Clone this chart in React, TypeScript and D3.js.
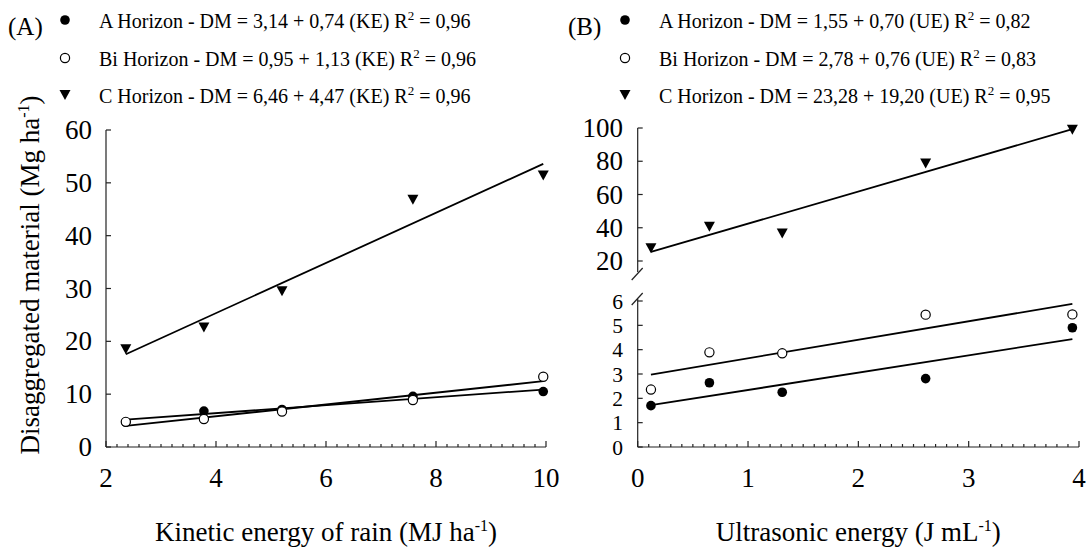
import React from "react";
import * as d3 from "d3";

// Panel A – kinetic energy of rain (MJ ha-1)
const keA = [2.36, 3.78, 5.2, 7.58, 9.95];
const aHorizonA = [4.7, 6.8, 7.1, 9.6, 10.5];
const biHorizonA = [4.76, 5.3, 6.7, 8.9, 13.3];
const cHorizonA = [18.5, 22.6, 29.5, 46.8, 51.4];
const xTicksA = [2, 4, 6, 8, 10];
const yTicksA = [0, 10, 20, 30, 40, 50, 60];

// Panel B – ultrasonic energy (J mL-1)
const ueB = [0.12, 0.65, 1.31, 2.61, 3.94];
const aHorizonB = [1.7, 2.64, 2.25, 2.81, 4.9];
const biHorizonB = [2.36, 3.89, 3.85, 5.44, 5.45];
const cHorizonB = [27.6, 40.6, 36.6, 78.6, 99];
const xTicksB = [0, 1, 2, 3, 4];
const yTicksBLow = [0, 1, 2, 3, 4, 5, 6];
const yTicksBUp = [20, 40, 60, 80, 100];

const legendA = [
  { sym: "filled", text: "A Horizon - DM = 3,14 + 0,74 (KE) R", tail: " = 0,96" },
  { sym: "open", text: "Bi Horizon - DM = 0,95 + 1,13 (KE) R", tail: " = 0,96" },
  { sym: "tri", text: "C Horizon - DM = 6,46 + 4,47 (KE) R", tail: " = 0,96" },
];
const legendB = [
  { sym: "filled", text: "A Horizon - DM = 1,55 + 0,70 (UE) R", tail: " = 0,82" },
  { sym: "open", text: "Bi Horizon - DM = 2,78 + 0,76 (UE) R", tail: " = 0,83" },
  { sym: "tri", text: "C Horizon - DM = 23,28 + 19,20 (UE) R", tail: " = 0,95" },
];

const FONT = "Liberation Serif";
const AX = "#222";
const AXFS = 27;

function fit(xs: number[], ys: number[]) {
  const mx = d3.mean(xs) as number;
  const my = d3.mean(ys) as number;
  let sxy = 0, sxx = 0;
  xs.forEach((x, i) => { sxy += (x - mx) * (ys[i] - my); sxx += (x - mx) ** 2; });
  const b = sxy / sxx;
  const a = my - b * mx;
  const x0 = d3.min(xs) as number, x1 = d3.max(xs) as number;
  return [[x0, a + b * x0], [x1, a + b * x1]];
}

function Marker({ sym, cx, cy }: { sym: string; cx: number; cy: number }) {
  if (sym === "filled") return <circle cx={cx} cy={cy} r={4.8} fill="#000" />;
  if (sym === "open") return <circle cx={cx} cy={cy} r={4.6} fill="#fff" stroke="#000" strokeWidth={1.2} />;
  return <path d={`M${cx - 5.5},${cy - 5}L${cx + 5.5},${cy - 5}L${cx},${cy + 5}Z`} fill="#000" />;
}

function Legend({ items, x, label }: { items: typeof legendA; x: number; label: string }) {
  const rows = [20, 58, 95];
  return (
    <g style={{ fontFamily: FONT }}>
      <text x={x - 57} y={35} fontSize={25}>{label}</text>
      {items.map((it, i) => (
        <g key={i}>
          <Marker sym={it.sym} cx={x} cy={rows[i]} />
          <text x={x + 34} y={rows[i] + 8} fontSize={20}>
            {it.text}
            <tspan dy={-8} fontSize={13}>2</tspan>
            <tspan dy={8}>{it.tail}</tspan>
          </text>
        </g>
      ))}
    </g>
  );
}

export default function App() {
  const base = 447;
  // Panel A scales
  const xA = d3.scaleLinear().domain([2, 10]).range([106, 546]);
  const yA = d3.scaleLinear().domain([0, 60]).range([base, 130]);
  // Panel B scales
  const xB = d3.scaleLinear().domain([0, 4]).range([637.7, 1079]);
  const yBLow = d3.scaleLinear().domain([0, 6]).range([base, 301]);
  const yBUp = d3.scaleLinear().domain([20, 100]).range([261, 128]);

  const line = (pts: number[][], sx: any, sy: any) =>
    d3.line()(pts.map((p) => [sx(p[0]), sy(p[1])] as [number, number])) as string;

  const minorA = d3.range(2, 10.001, 0.2);
  const minorB = d3.range(0, 4.001, 0.1);

  const seriesA = [
    { sym: "tri", ys: cHorizonA },
    { sym: "filled", ys: aHorizonA },
    { sym: "open", ys: biHorizonA },
  ];
  const seriesBLow = [
    { sym: "filled", ys: aHorizonB },
    { sym: "open", ys: biHorizonB },
  ];

  return (
    <svg width={1089} height={549} style={{ display: "block", position: "absolute", left: 0, top: 0 }}>
      <rect width={1089} height={549} fill="#fff" />
      <Legend items={legendA} x={65} label="(A)" />
      <Legend items={legendB} x={625} label="(B)" />

      {/* Panel A axes */}
      <g stroke={AX} strokeWidth={1.2} fill="none">
        <line x1={xA(2)} x2={xA(10)} y1={base} y2={base} />
        <line x1={xA(2)} x2={xA(2)} y1={yA(60)} y2={base} />
        {minorA.map((v, i) => (
          <line key={i} x1={xA(v)} x2={xA(v)} y1={base} y2={base - (i % 10 === 0 ? 6 : 3)} />
        ))}
        {yTicksA.map((v) => (
          <line key={v} x1={xA(2)} x2={xA(2) + 5} y1={yA(v)} y2={yA(v)} />
        ))}
      </g>
      <g style={{ fontFamily: FONT }} fontSize={AXFS} fill="#000">
        {xTicksA.map((v) => (
          <text key={v} x={xA(v)} y={487} textAnchor="middle">{v}</text>
        ))}
        {yTicksA.map((v) => (
          <text key={v} x={92} y={yA(v) + 9} textAnchor="end">{v}</text>
        ))}
        <text x={326} y={541} textAnchor="middle">
          Kinetic energy of rain (MJ ha<tspan dy={-10} fontSize={16}>-1</tspan><tspan dy={10}>)</tspan>
        </text>
        <text transform={`translate(39,275) rotate(-90)`} textAnchor="middle">
          Disaggregated material (Mg ha<tspan dy={-10} fontSize={16}>-1</tspan><tspan dy={10}>)</tspan>
        </text>
      </g>
      {/* Panel A fits */}
      <g stroke="#000" strokeWidth={1.8} fill="none">
        {seriesA.map((s, i) => (
          <path key={i} d={line(fit(keA, s.ys), xA, yA)} />
        ))}
      </g>
      {seriesA.map((s, i) => (
        <g key={i}>
          {keA.map((x, j) => <Marker key={j} sym={s.sym} cx={xA(x)} cy={yA(s.ys[j])} />)}
        </g>
      ))}

      {/* Panel B axes */}
      <g stroke={AX} strokeWidth={1.2} fill="none">
        <line x1={xB(0)} x2={xB(4)} y1={base} y2={base} />
        <line x1={xB(0)} x2={xB(0)} y1={yBLow(6) - 2} y2={base} />
        <line x1={xB(0)} x2={xB(0)} y1={yBUp(100)} y2={272} />
        <line x1={xB(0) - 6} x2={xB(0) + 5} y1={280} y2={268} />
        <line x1={xB(0) - 6} x2={xB(0) + 5} y1={305} y2={293} />
        {minorB.map((v, i) => (
          <line key={i} x1={xB(v)} x2={xB(v)} y1={base} y2={base - (i % 10 === 0 ? 6 : 3)} />
        ))}
        {yTicksBLow.map((v) => (
          <line key={v} x1={xB(0)} x2={xB(0) + 5} y1={yBLow(v)} y2={yBLow(v)} />
        ))}
        {yTicksBUp.map((v) => (
          <line key={v} x1={xB(0)} x2={xB(0) + 5} y1={yBUp(v)} y2={yBUp(v)} />
        ))}
      </g>
      <g style={{ fontFamily: FONT }} fontSize={AXFS} fill="#000">
        {xTicksB.map((v) => (
          <text key={v} x={xB(v)} y={487} textAnchor="middle">{v}</text>
        ))}
        {yTicksBLow.map((v) => (
          <text key={v} x={623} y={yBLow(v) + 7.5} textAnchor="end" fontSize={21.5}>{v}</text>
        ))}
        {yTicksBUp.map((v) => (
          <text key={v} x={623} y={yBUp(v) + 9} textAnchor="end">{v}</text>
        ))}
        <text x={(xB(0) + xB(4)) / 2} y={541} textAnchor="middle">
          Ultrasonic energy (J mL<tspan dy={-10} fontSize={16}>-1</tspan><tspan dy={10}>)</tspan>
        </text>
      </g>
      <g stroke="#000" strokeWidth={1.8} fill="none">
        <path d={line(fit(ueB, cHorizonB), xB, yBUp)} />
        {seriesBLow.map((s, i) => (
          <path key={i} d={line(fit(ueB, s.ys), xB, yBLow)} />
        ))}
      </g>
      {ueB.map((x, j) => <Marker key={"c" + j} sym="tri" cx={xB(x)} cy={yBUp(cHorizonB[j])} />)}
      {seriesBLow.map((s, i) => (
        <g key={i}>
          {ueB.map((x, j) => <Marker key={j} sym={s.sym} cx={xB(x)} cy={yBLow(s.ys[j])} />)}
        </g>
      ))}
    </svg>
  );
}
